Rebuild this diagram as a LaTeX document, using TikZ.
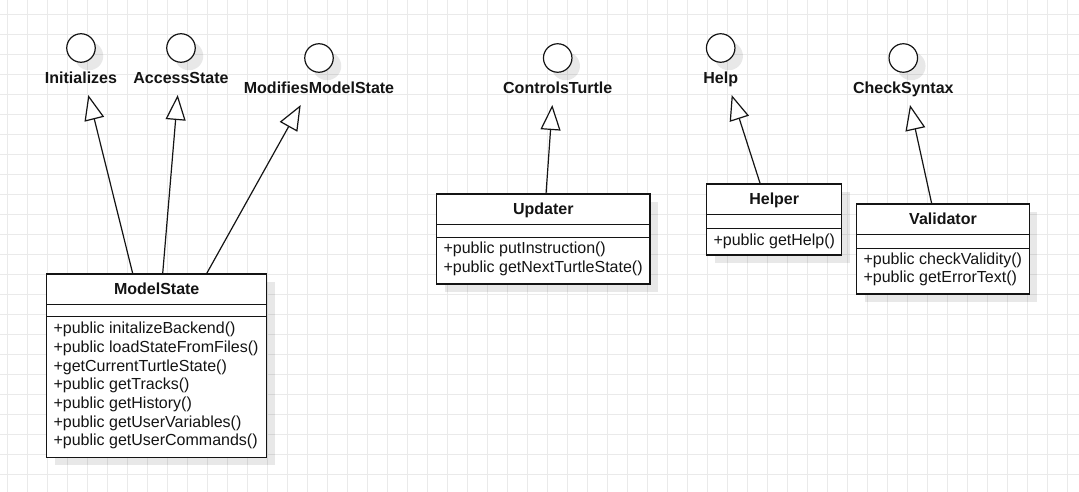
\documentclass[tikz,border=0pt]{standalone}
\usepackage{fontspec}
\setmainfont{Liberation Sans}
\usetikzlibrary{arrows.meta,calc,shadows}
\definecolor{gridc}{RGB}{234,234,234}
\definecolor{inkc}{RGB}{20,20,20}
\begin{document}
\begin{tikzpicture}[x=1pt,y=-1pt,
  gridline/.style={draw=gridc, line width=0.9pt},
  shad/.style={drop shadow={shadow xshift=8pt, shadow yshift=-8pt, fill=black, opacity=0.09}},
  classbox/.style={rectangle, draw=inkc, fill=white, line width=1.2pt, inner sep=0pt, shad},
  sepline/.style={draw=inkc, line width=1.2pt},
  iface/.style={circle, draw=inkc, fill=white, line width=1.2pt, minimum size=28.5pt, inner sep=0pt, shad},
  ctitle/.style={font=\bfseries\fontsize{16}{19}\selectfont, text=inkc, inner sep=0pt, text height=11.5pt, text depth=0pt},
  cmeth/.style={font=\fontsize{16}{19}\selectfont, text=inkc, inner sep=0pt, anchor=west, text height=11.7pt, text depth=3.4pt},
  realize/.style={draw=inkc, line width=1.2pt, -{Triangle[length=25pt,width=20pt,fill=white]}}
]
\useasboundingbox (0,0) rectangle (1079,492);
\fill[white] (0,0) rectangle (1079,492);
\foreach \gx in {7,27,...,1067} \draw[gridline] (\gx,0) -- (\gx,492);
\foreach \gy in {14,34,...,474} \draw[gridline] (0,\gy) -- (1079,\gy);

% interfaces
\node[iface] (Init) at (81,48) {};
\node[ctitle] (InitL) at (81,77.7) {Initializes};
\node[iface] (Access) at (181,48) {};
\node[ctitle] (AccessL) at (181,77.7) {AccessState};
\node[iface] (Modif) at (319,58) {};
\node[ctitle] (ModifL) at (319,87.7) {ModifiesModelState};
\node[iface] (Ctrl) at (557.7,58) {};
\node[ctitle] (CtrlL) at (557.7,88) {ControlsTurtle};
\node[iface] (Hlp) at (720.7,48) {};
\node[ctitle] (HlpL) at (720.7,78) {Help};
\node[iface] (Chk) at (903.3,58) {};
\node[ctitle] (ChkL) at (903.3,88) {CheckSyntax};

% ModelState
\node[classbox, minimum width=220pt, minimum height=183.3pt] (ModelState) at (156.7,365.7) {};
\draw[sepline] ($(ModelState.north west)+(0,31)$) -- ($(ModelState.north east)+(0,31)$);
\draw[sepline] ($(ModelState.north west)+(0,43.3)$) -- ($(ModelState.north east)+(0,43.3)$);
\node[ctitle] (ModelStateT) at ($(ModelState.north)+(0,15.5)$) {ModelState};
\foreach \mtext [count=\i] in {+public initalizeBackend(), +public loadStateFromFiles(), +getCurrentTurtleState(), +public getTracks(), +public getHistory(), +public getUserVariables(), +public getUserCommands()}
  \node[cmeth] (ModelStateM\i) at ($(ModelState.north west)+(7.3,{56.3+(\i-1)*18.67})$) {\mtext};

% Updater
\node[classbox, minimum width=213.3pt, minimum height=90pt] (Updater) at (543.3,239) {};
\draw[sepline] ($(Updater.north west)+(0,31)$) -- ($(Updater.north east)+(0,31)$);
\draw[sepline] ($(Updater.north west)+(0,44.3)$) -- ($(Updater.north east)+(0,44.3)$);
\node[ctitle] (UpdaterT) at ($(Updater.north)+(0,15.5)$) {Updater};
\foreach \mtext [count=\i] in {+public putInstruction(), +public getNextTurtleState()}
  \node[cmeth] (UpdaterM\i) at ($(Updater.north west)+(7.3,{56.3+(\i-1)*18.67})$) {\mtext};

% Helper
\node[classbox, minimum width=135pt, minimum height=71pt] (Helper) at (774.2,219.5) {};
\draw[sepline] ($(Helper.north west)+(0,31)$) -- ($(Helper.north east)+(0,31)$);
\draw[sepline] ($(Helper.north west)+(0,45)$) -- ($(Helper.north east)+(0,45)$);
\node[ctitle] (HelperT) at ($(Helper.north)+(0,15.5)$) {Helper};
\node[cmeth] (HelperM1) at ($(Helper.north west)+(7.3,57.5)$) {+public getHelp()};

% Validator
\node[classbox, minimum width=172.7pt, minimum height=90pt] (Validator) at (943,249) {};
\draw[sepline] ($(Validator.north west)+(0,31)$) -- ($(Validator.north east)+(0,31)$);
\draw[sepline] ($(Validator.north west)+(0,45)$) -- ($(Validator.north east)+(0,45)$);
\node[ctitle] (ValidatorT) at ($(Validator.north)+(0,15.5)$) {Validator};
\foreach \mtext [count=\i] in {+public checkValidity(), +public getErrorText()}
  \node[cmeth] (ValidatorM\i) at ($(Validator.north west)+(7.3,{56.5+(\i-1)*18.67})$) {\mtext};

% connectors
\coordinate (InitTip) at (88.3,95);
\coordinate (AccessTip) at (177.7,95);
\coordinate (ModifTip) at (300.7,105);
\coordinate (CtrlTip) at (552.3,105);
\coordinate (HlpTip) at (731.7,95);
\coordinate (ChkTip) at (910,105);
\draw[realize] ($(ModelState.north west)+(86.6,0)$) -- (InitTip);
\draw[realize] ($(ModelState.north west)+(116.6,0)$) -- (AccessTip);
\draw[realize] ($(ModelState.north west)+(160.6,0)$) -- (ModifTip);
\draw[realize] ($(Updater.north west)+(110,0)$) -- (CtrlTip);
\draw[realize] ($(Helper.north west)+(54,0)$) -- (HlpTip);
\draw[realize] ($(Validator.north west)+(75.6,0)$) -- (ChkTip);
\end{tikzpicture}
\end{document}
